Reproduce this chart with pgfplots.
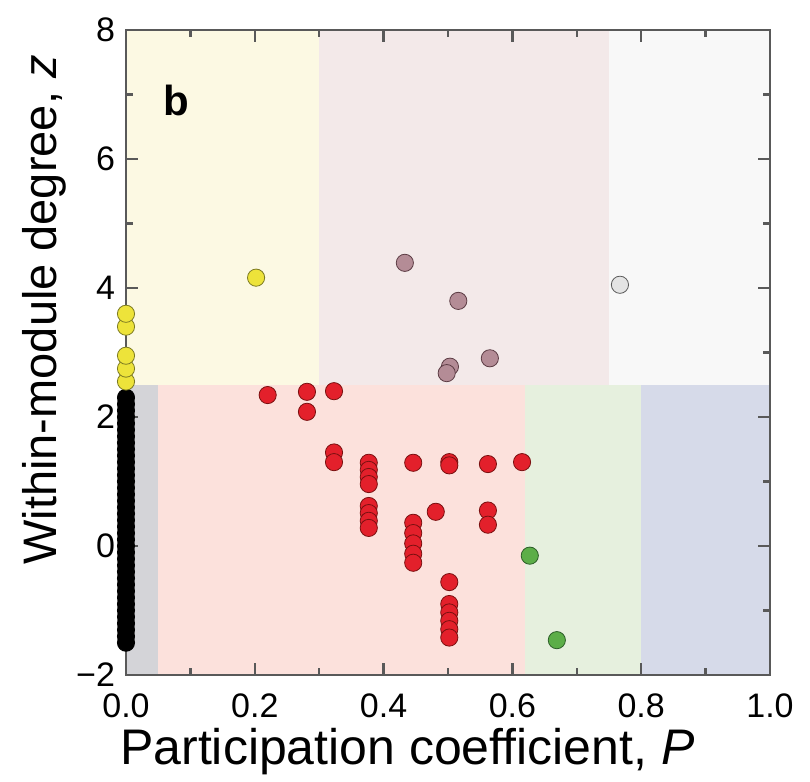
\documentclass[border=0pt]{standalone}
\usepackage{fontspec}
\setmainfont{Liberation Sans}
\usepackage{pgfplots}
\pgfplotsset{compat=1.18}
\definecolor{bgY}{HTML}{FCF9E3}
\definecolor{bgM}{HTML}{F3E9E9}
\definecolor{bgW}{HTML}{F8F8F8}
\definecolor{bgG}{HTML}{D4D4D8}
\definecolor{bgP}{HTML}{FCE1DC}
\definecolor{bgGr}{HTML}{E6F0DE}
\definecolor{bgB}{HTML}{D6DAE9}
\definecolor{redF}{HTML}{E3202B}
\definecolor{redD}{HTML}{7A1010}
\definecolor{yelF}{HTML}{EDE33A}
\definecolor{yelD}{HTML}{7C7A22}
\definecolor{mauF}{HTML}{B48C96}
\definecolor{mauD}{HTML}{5C3C44}
\definecolor{whF}{HTML}{E4E4E4}
\definecolor{whD}{HTML}{5A5A5A}
\definecolor{grF}{HTML}{5CAE48}
\definecolor{grD}{HTML}{2C5E28}
\begin{document}
\begin{tikzpicture}
\begin{axis}[
  width=322pt, height=322.5pt, scale only axis,
  xmin=0, xmax=1, ymin=-2, ymax=8,
  axis on top, clip=false,
  axis line style={draw=black!65, line width=1.3pt},
  xtick={0,0.2,0.4,0.6,0.8,1},
  xticklabels={0.0,0.2,0.4,0.6,0.8,1.0},
  minor xtick={0.1,0.3,0.5,0.7,0.9},
  ytick={-2,0,2,4,6,8},
  yticklabels={−2,0,2,4,6,8},
  minor ytick={-1,1,3,5,7},
  tick align=inside, major tick length=6pt, minor tick length=3.5pt,
  every tick/.style={black!65, line width=1.2pt},
  ticklabel style={font=\fontsize{17}{20}\selectfont},
  xticklabel style={yshift=-6pt},
  yticklabel style={xshift=-2pt},
  xlabel={Participation coefficient, \textit{P}},
  ylabel={Within-module degree, \textit{z}},
  xlabel style={font=\fontsize{25}{30}\selectfont, at={(ticklabel cs:0.437)}, yshift=2pt},
  ylabel style={font=\fontsize{23.5}{28}\selectfont, at={(ticklabel cs:0.566)}, yshift=-2pt},
  every mark/.append style={line width=0.9pt},
]
% background role regions
\addplot[draw=none, fill=bgY] coordinates {(0,2.5)(0.3,2.5)(0.3,8)(0,8)} -- cycle;
\addplot[draw=none, fill=bgM] coordinates {(0.3,2.5)(0.75,2.5)(0.75,8)(0.3,8)} -- cycle;
\addplot[draw=none, fill=bgW] coordinates {(0.75,2.5)(1,2.5)(1,8)(0.75,8)} -- cycle;
\addplot[draw=none, fill=bgG] coordinates {(0,-2)(0.05,-2)(0.05,2.5)(0,2.5)} -- cycle;
\addplot[draw=none, fill=bgP] coordinates {(0.05,-2)(0.62,-2)(0.62,2.5)(0.05,2.5)} -- cycle;
\addplot[draw=none, fill=bgGr] coordinates {(0.62,-2)(0.8,-2)(0.8,2.5)(0.62,2.5)} -- cycle;
\addplot[draw=none, fill=bgB] coordinates {(0.8,-2)(1,-2)(1,2.5)(0.8,2.5)} -- cycle;
% ultra-peripheral nodes
\addplot[only marks, mark=*, mark size=4.3pt, mark options={fill=black, draw=black}] coordinates {
(0,-1.5)(0,-1.4)(0,-1.3)(0,-1.2)(0,-1.1)(0,-1.0)(0,-0.9)(0,-0.8)(0,-0.7)(0,-0.6)
(0,-0.5)(0,-0.4)(0,-0.3)(0,-0.2)(0,-0.1)(0,0)(0,0.1)(0,0.2)(0,0.3)(0,0.4)
(0,0.5)(0,0.6)(0,0.7)(0,0.8)(0,0.9)(0,1.0)(0,1.1)(0,1.2)(0,1.3)(0,1.4)
(0,1.5)(0,1.6)(0,1.7)(0,1.8)(0,1.9)(0,2.0)(0,2.1)(0,2.2)(0,2.3)};
% provincial hubs
\addplot[only marks, mark=*, mark size=4.3pt, mark options={fill=yelF, draw=yelD}] coordinates {
(0,2.55)(0,2.75)(0,2.95)(0,3.4)(0,3.6)(0.202,4.16)};
% peripheral / connector nodes
\addplot[only marks, mark=*, mark size=4.3pt, mark options={fill=redF, draw=redD}] coordinates {
(0.22,2.34)(0.281,2.39)(0.281,2.08)(0.323,2.40)
(0.323,1.45)(0.323,1.30)
(0.377,1.29)(0.377,1.18)(0.377,1.07)(0.377,0.96)
(0.377,0.62)(0.377,0.51)(0.377,0.39)(0.377,0.28)
(0.446,1.29)
(0.446,0.36)(0.446,0.20)(0.446,0.04)(0.446,-0.12)(0.446,-0.26)
(0.481,0.53)
(0.502,1.30)(0.502,1.25)
(0.502,-0.56)(0.502,-0.90)(0.502,-1.03)(0.502,-1.16)(0.502,-1.29)(0.502,-1.42)
(0.562,1.27)
(0.562,0.55)(0.562,0.33)
(0.615,1.30)};
\addplot[only marks, mark=*, mark size=4.3pt, mark options={fill=mauF, draw=mauD}] coordinates {
(0.433,4.39)(0.516,3.80)(0.565,2.91)(0.503,2.78)(0.498,2.68)};
\addplot[only marks, mark=*, mark size=4.3pt, mark options={fill=whF, draw=whD}] coordinates {
(0.767,4.05)};
\addplot[only marks, mark=*, mark size=4.3pt, mark options={fill=grF, draw=grD}] coordinates {
(0.627,-0.15)(0.669,-1.46)};
\node[font=\fontsize{21}{24}\selectfont\bfseries] at (axis cs:0.078,6.9) {b};
\end{axis}
\path (current axis.south west) ++(-63pt,-53.5pt) coordinate (bbA);
\path (current axis.north east) ++(20pt,15pt) coordinate (bbB);
\path (bbA) (bbB);
\end{tikzpicture}
\end{document}
